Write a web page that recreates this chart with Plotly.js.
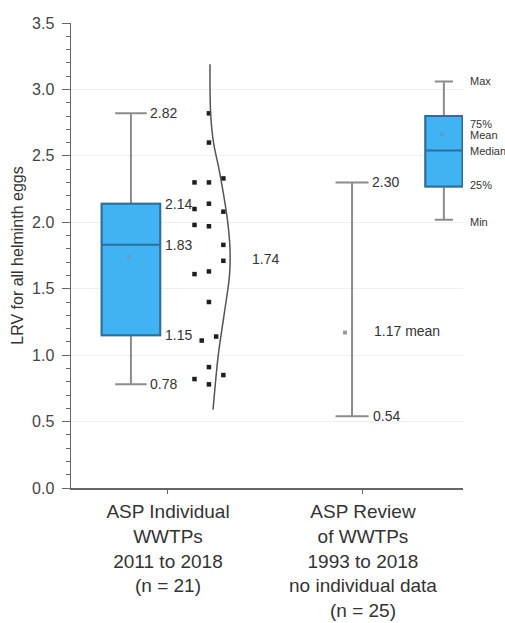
<!DOCTYPE html>
<html>
<head>
<meta charset="utf-8">
<script src="https://cdn.plot.ly/plotly-3.0.1.min.js"></script>
<style>
  html, body { margin: 0; padding: 0; background: #ffffff; }
  #chart { width: 505px; height: 623px; }
</style>
</head>
<body>
<div id="chart"></div>
<script>
// ---------------- data ----------------
const categories = [
  'ASP Individual<br>WWTPs<br>2011 to 2018<br>(n = 21)',
  'ASP Review<br>of WWTPs<br>1993 to 2018<br>no individual data<br>(n = 25)'
];
const categoryPos = [1, 2];

// individual WWTP LRVs (n = 21)
const individualLRV = [2.82, 2.60, 2.33, 2.30, 2.30, 2.14, 2.10, 2.08, 1.98, 1.97, 1.83,
                       1.71, 1.63, 1.61, 1.40, 1.14, 1.11, 0.91, 0.85, 0.82, 0.78];

// summary statistics, group 1
const individualStats = { min: 0.78, q1: 1.15, median: 1.83, q3: 2.14, max: 2.82, mean: 1.74 };
// summary statistics, group 2 (no individual data)
const reviewStats = { min: 0.54, max: 2.30, mean: 1.17 };

// fitted distribution curve drawn next to the points (LRV level, relative density)
const curveLRV     = [3.19, 3.00, 2.80, 2.60, 2.40, 2.20, 2.00, 1.80, 1.60, 1.40, 1.20, 1.00, 0.80, 0.59];
const curveDensity = [0.20, 0.20, 0.23, 0.34, 0.56, 0.75, 0.91, 1.00, 0.98, 0.84, 0.68, 0.53, 0.42, 0.32];

// key glyph (explanatory box at top right)
const keyLabels = ['Max', '75%', 'Mean', 'Median', '25%', 'Min'];
const keyStats = { min: 2.02, q1: 2.27, median: 2.54, mean: 2.66, q3: 2.80, max: 3.06 };

// ---------------- styling / placement ----------------
const boxFill = '#41b3f3';
const boxLine = '#2a6f9e';
const whiskerColor = '#8c8c8c';
const textColor = '#333333';
const FONT = 'Liberation Sans, Arial, sans-serif';

const box1X = 0.81, box1W = 0.30;
const dotX = 1.21, dotStep = 0.074;
const dotSlot = [0, 0, 1, -1, 0, 0, -1, 1, -1, 0, 1, 1, 0, -1, 0, 0.5, -0.5, 0, 1, -1, 0];
const curveBase = 1.19, curveScale = 0.128;
const whisker2X = 1.944, mean2X = 1.908;
const keyX = 2.415, keyW = 0.19;

const traces = [];

// group 1: grey whiskers (box hidden below the blue box)
traces.push({
  type: 'box', x: [box1X], width: box1W,
  q1: [individualStats.q1], median: [individualStats.median], q3: [individualStats.q3],
  lowerfence: [individualStats.min], upperfence: [individualStats.max],
  line: { color: whiskerColor, width: 2 }, fillcolor: 'rgba(0,0,0,0)',
  whiskerwidth: 0.54, boxpoints: false, hoverinfo: 'skip', showlegend: false
});
// group 1: blue box
traces.push({
  type: 'box', x: [box1X], width: box1W,
  q1: [individualStats.q1], median: [individualStats.median], q3: [individualStats.q3],
  lowerfence: [individualStats.q1], upperfence: [individualStats.q3],
  line: { color: boxLine, width: 2 }, fillcolor: boxFill,
  whiskerwidth: 0, boxpoints: false, hoverinfo: 'skip', showlegend: false
});
// key glyph whiskers + box
traces.push({
  type: 'box', x: [keyX], width: keyW,
  q1: [keyStats.q1], median: [keyStats.median], q3: [keyStats.q3],
  lowerfence: [keyStats.min], upperfence: [keyStats.max],
  line: { color: whiskerColor, width: 2 }, fillcolor: 'rgba(0,0,0,0)',
  whiskerwidth: 0.49, boxpoints: false, hoverinfo: 'skip', showlegend: false
});
traces.push({
  type: 'box', x: [keyX], width: keyW,
  q1: [keyStats.q1], median: [keyStats.median], q3: [keyStats.q3],
  lowerfence: [keyStats.q1], upperfence: [keyStats.q3],
  line: { color: boxLine, width: 2 }, fillcolor: boxFill,
  whiskerwidth: 0, boxpoints: false, hoverinfo: 'skip', showlegend: false
});

// mean markers
traces.push({
  type: 'scatter', mode: 'markers',
  x: [box1X - 0.01, keyX - 0.01], y: [individualStats.mean, keyStats.mean],
  marker: { color: '#5d9fcc', size: 4, symbol: 'square' },
  hoverinfo: 'skip', showlegend: false
});

// group 2 whisker (range only)
traces.push({
  type: 'scatter', mode: 'markers',
  x: [whisker2X], y: [reviewStats.min],
  marker: { opacity: 0 },
  error_y: {
    type: 'data', symmetric: false,
    array: [reviewStats.max - reviewStats.min], arrayminus: [0],
    color: whiskerColor, thickness: 2, width: 16.5
  },
  hoverinfo: 'skip', showlegend: false
});
traces.push({
  type: 'scatter', mode: 'markers',
  x: [mean2X], y: [reviewStats.mean],
  marker: { color: '#9a9a9a', size: 4, symbol: 'square' },
  hoverinfo: 'skip', showlegend: false
});

// individual points
traces.push({
  type: 'scatter', mode: 'markers',
  x: individualLRV.map((v, i) => dotX + dotSlot[i] * dotStep),
  y: individualLRV,
  marker: { color: '#1e1e1e', size: 4.5, symbol: 'square' },
  hoverinfo: 'skip', showlegend: false
});

// distribution curve
traces.push({
  type: 'scatter', mode: 'lines',
  x: curveDensity.map(d => curveBase + d * curveScale),
  y: curveLRV,
  line: { color: '#555555', width: 1.5, shape: 'spline', smoothing: 1 },
  hoverinfo: 'skip', showlegend: false
});

// ---------------- annotations ----------------
const fmt = v => v.toFixed(2);
const ann = [];
function label(x, y, text, xshift, size, yshift) {
  ann.push({
    x: x, y: y, xref: 'x', yref: 'y', text: text, showarrow: false,
    xanchor: 'left', yanchor: 'middle', xshift: xshift, yshift: yshift || 0,
    font: { family: FONT, size: size, color: textColor }
  });
}
label(box1X, individualStats.max, fmt(individualStats.max), 17, 14);
label(box1X, individualStats.q3, fmt(individualStats.q3), 32, 14);
label(box1X, individualStats.median, fmt(individualStats.median), 32, 14);
label(box1X, individualStats.q1, fmt(individualStats.q1), 32, 14);
label(box1X, individualStats.min, fmt(individualStats.min), 17, 14);
label(box1X, individualStats.mean, fmt(individualStats.mean), 119, 14, -2);
label(whisker2X, reviewStats.max, fmt(reviewStats.max), 18, 14);
label(whisker2X, reviewStats.min, fmt(reviewStats.min), 19, 14);
label(whisker2X, reviewStats.mean, fmt(reviewStats.mean) + ' mean', 20, 14, 2);

// key labels
const keyValues = [keyStats.max, keyStats.q3, keyStats.mean, keyStats.median, keyStats.q1, keyStats.min];
const keyYShift = [0, -8, 0, 0, 1, -2];
keyLabels.forEach((t, i) => {
  ann.push({
    x: keyX, y: keyValues[i], xref: 'x', yref: 'y', text: t, showarrow: false,
    xanchor: 'left', yanchor: 'middle', xshift: 24, yshift: keyYShift[i],
    font: { family: FONT, size: 11, color: textColor }
  });
});

const layout = {
  width: 505, height: 623,
  margin: { l: 71, r: 42, t: 23, b: 135 },
  paper_bgcolor: '#ffffff', plot_bgcolor: '#ffffff',
  showlegend: false,
  boxmode: 'overlay',
  font: { family: FONT, color: textColor },
  xaxis: {
    range: [0.5026, 2.513],
    tickvals: categoryPos, ticktext: categories,
    showgrid: false, zeroline: false,
    showline: true, linecolor: '#666666', linewidth: 1.5,
    ticks: 'outside', ticklen: 4, tickcolor: '#666666',
    ticklabelstandoff: 2,
    tickfont: { family: FONT, size: 19, color: textColor },
    fixedrange: true
  },
  yaxis: {
    range: [0, 3.5], dtick: 0.5, tickformat: '.1f',
    showgrid: true, gridcolor: '#efefef', gridwidth: 1,
    zeroline: false,
    showline: true, linecolor: '#666666', linewidth: 1.5,
    ticks: 'outside', ticklen: 8, tickcolor: '#666666',
    minor: { dtick: 0.1, ticks: 'outside', ticklen: 4, tickcolor: '#666666', showgrid: false },
    ticklabelstandoff: 4,
    tickfont: { family: FONT, size: 16, color: '#444444' },
    title: { text: 'LRV for all helminth eggs', standoff: 4,
             font: { family: FONT, size: 16, color: textColor } },
    fixedrange: true
  },
  annotations: ann
};

Plotly.newPlot('chart', traces, layout, { displayModeBar: false, staticPlot: true });
</script>
</body>
</html>
